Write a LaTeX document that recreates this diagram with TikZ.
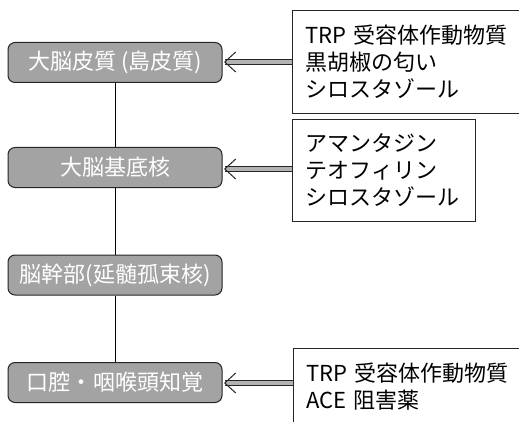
\documentclass[tikz,border=0pt]{standalone}
\usepackage{fontspec}
\setmainfont{Noto Sans CJK JP}
\usetikzlibrary{arrows.meta}
\begin{document}
\begin{tikzpicture}[x=1pt,y=1pt,
  graybox/.style={draw=black!85, line width=1pt, fill=black!36, rounded corners=7pt,
    minimum width=214pt, minimum height=40pt, text=white, inner sep=0pt,
    font=\fontsize{22}{26}\selectfont},
  listbox/.style={draw=black!85, line width=1pt, fill=white, anchor=north west,
    align=left, inner xsep=13pt, inner ysep=0pt,
    font=\fontsize{22}{27}\selectfont},
  dblarrow/.style={draw=black!85, line width=0.9pt, double=black!30, double distance=4.5pt,
    -{Straight Barb[length=11pt, width=20pt, line width=1pt]}},
  vline/.style={draw=black, line width=1pt}]
\useasboundingbox (0,0) rectangle (519,421);
\clip (0,0) rectangle (519,421);

\node[graybox] (g1) at (115,358.5) {大脳皮質 (島皮質)};
\node[graybox] (g2) at (115,253.5) {大脳基底核};
\node[graybox] (g3) at (115,146) {脳幹部(延髄孤束核)};
\node[graybox] (g4) at (115,38.5) {口腔・咽喉頭知覚};

\draw[vline] (g1.south) -- (g2.north);
\draw[vline] (g2.south) -- (g3.north);
\draw[vline] (g3.south) -- (g4.north);

\node[listbox, text width=212pt, minimum height=103pt] (a) at (292,411)
  {TRP 受容体作動物質\\黒胡椒の匂い\\シロスタゾール};
\node[listbox, text width=157pt, minimum height=102pt] (b) at (292,302)
  {アマンタジン\\テオフィリン\\シロスタゾール};
\node[listbox, text width=212pt, minimum height=77pt] (c) at (293,73)
  {TRP 受容体作動物質\\ACE 阻害薬};

\draw[dblarrow] (a.west |- 0,359) -- (224,359);
\draw[dblarrow] (b.west |- 0,252) -- (224,252);
\draw[dblarrow] (c.west |- 0,38) -- (224,38);
\end{tikzpicture}
\end{document}
